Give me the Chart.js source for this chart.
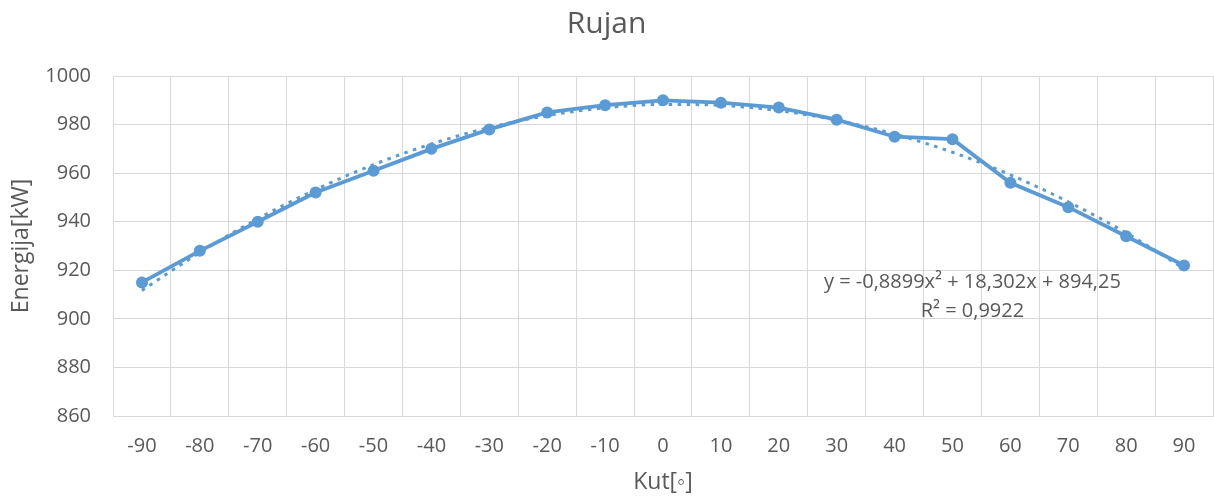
<!DOCTYPE html>
<html>
<head>
<meta charset="utf-8">
<script src="https://cdn.jsdelivr.net/npm/chart.js@4"></script>
<style>
  html, body { margin: 0; padding: 0; background: #ffffff; }
  #wrap { width: 1214px; height: 500px; }
</style>
</head>
<body>
<div id="wrap"><canvas id="c" width="1214" height="500"></canvas></div>
<script>
// ---- data ----
const categories = ['-90','-80','-70','-60','-50','-40','-30','-20','-10','0','10','20','30','40','50','60','70','80','90'];
const energy = [915, 928, 940, 952, 961, 970, 978, 985, 988, 990, 989, 987, 982, 975, 974, 956, 946, 934, 922];
// polynomial trend line (dotted)
const trendValues = [911.7, 927.3, 941.2, 953.2, 963.5, 972.0, 978.8, 983.7, 986.9, 988.3, 987.9, 985.7, 981.8, 976.1, 968.6, 959.3, 948.2, 935.4, 920.7];
const yTicks = [860, 880, 900, 920, 940, 960, 980, 1000];
const titleText = 'Rujan';
const xTitle = 'Kut[◦]';
const yTitle = 'Energija[kW]';
const equationLines = ['y = -0,8899x² + 18,302x + 894,25', 'R² = 0,9922'];

const BLUE = '#5B9BD5';
const GRID = '#D9D9D9';
const TXT = '#595959';
const FONT = "'Open Sans', 'Liberation Sans', sans-serif";

const equationPlugin = {
  id: 'equation',
  afterDatasetsDraw(chart) {
    const ctx = chart.ctx;
    const x = chart.scales.x;
    const y = chart.scales.y;
    const cx = (x.getPixelForValue(14) + x.getPixelForValue(15)) / 2 - 9;
    ctx.save();
    ctx.font = '20px ' + FONT;
    ctx.fillStyle = TXT;
    ctx.textAlign = 'center';
    ctx.textBaseline = 'middle';
    ctx.fillText(equationLines[0], cx, y.getPixelForValue(915));
    ctx.fillText(equationLines[1], cx, y.getPixelForValue(903.3));
    ctx.restore();
  }
};

new Chart(document.getElementById('c'), {
  type: 'line',
  data: {
    labels: categories,
    datasets: [
      {
        label: 'Trend',
        data: trendValues,
        borderColor: BLUE,
        borderWidth: 3,
        borderDash: [3.5, 5.5],
        pointRadius: 0,
        cubicInterpolationMode: 'monotone',
        fill: false,
        order: 0
      },
      {
        label: 'Energija',
        data: energy,
        borderColor: BLUE,
        backgroundColor: BLUE,
        borderWidth: 3.8,
        pointRadius: 6,
        pointBorderWidth: 0,
        pointBackgroundColor: BLUE,
        tension: 0,
        fill: false,
        order: 1
      }
    ]
  },
  options: {
    responsive: false,
    animation: false,
    devicePixelRatio: 1,
    layout: { autoPadding: false, padding: { left: 0, right: 1, top: 0, bottom: 0 } },
    plugins: {
      legend: { display: false },
      tooltip: { enabled: false },
      title: {
        display: true,
        text: titleText,
        color: TXT,
        font: { family: FONT, size: 30, weight: 'normal' },
        padding: { top: 6, bottom: 34 }
      }
    },
    scales: {
      x: {
        type: 'category',
        offset: true,
        grid: { offset: true, color: GRID, lineWidth: 1, drawTicks: false },
        border: { color: GRID, width: 1 },
        ticks: { color: TXT, font: { family: FONT, size: 20 }, padding: 18, maxRotation: 0, autoSkip: false },
        title: { display: true, text: xTitle, color: TXT, font: { family: FONT, size: 23 }, padding: { top: 4, bottom: 4 } },
        afterFit(s) { s.height = 84; s.paddingLeft = 0; s.paddingRight = 0; }
      },
      y: {
        min: 860,
        max: 1000,
        afterBuildTicks(s) { s.ticks = yTicks.map(v => ({ value: v })); },
        grid: { color: GRID, lineWidth: 1, drawTicks: false },
        border: { color: GRID, width: 1 },
        ticks: { color: TXT, font: { family: FONT, size: 20 }, padding: 22, callback: v => String(v) },
        title: { display: true, text: yTitle, color: TXT, font: { family: FONT, size: 23 }, padding: { top: 8, bottom: 0 } },
        afterFit(s) { s.width = 113; }
      }
    }
  },
  plugins: [equationPlugin]
});
</script>
</body>
</html>
